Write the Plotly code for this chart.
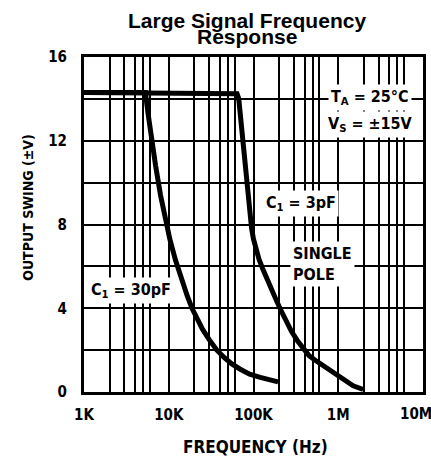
import plotly.graph_objects as go

# ---- data ----
freq_30pF = [1000, 5300, 5700, 6300, 7000, 8000, 9000, 10300, 12000, 14000, 16500, 18800,
             22000, 25000, 30000, 37000, 45000, 55000, 69000, 90000, 120000, 150000, 195000]
swing_30pF = [14.3, 14.3, 13.3, 12.0, 10.8, 9.4, 8.3, 7.3, 6.3, 5.4, 4.6, 4.0,
              3.4, 3.0, 2.5, 2.0, 1.65, 1.35, 1.1, 0.85, 0.7, 0.58, 0.48]

freq_3pF = [1000, 60000, 64000, 67000, 70000, 74000, 78000, 83000, 87000, 91000, 95000,
            100000, 107000, 116000, 128000, 145000, 165000, 185000, 205000, 240000, 280000,
            330000, 380000, 450000, 520000, 600000, 800000, 1000000, 1250000, 1500000, 1970000]
swing_3pF = [14.3, 14.3, 14.25, 14.0, 13.2, 12.0, 11.0, 10.0, 9.2, 8.4, 7.8,
             7.3, 6.85, 6.35, 5.9, 5.35, 4.85, 4.4, 4.0, 3.4, 2.9,
             2.45, 2.1, 1.75, 1.55, 1.38, 1.0, 0.73, 0.5, 0.3, 0.12]

decades = [1e3, 1e4, 1e5, 1e6, 1e7]
decade_labels = ["1K", "10K", "100K", "1M", "10M"]
grid_multiples = [2, 3, 4, 5, 6]
y_ticks = [0, 2, 4, 6, 8, 10, 12, 14, 16]
y_labels = ["0", "", "4", "", "8", "", "12", "", "16"]

# grid positions per decade; last decade label drawn separately (sits at the edge)
x_tickvals, x_ticktext = [], []
for d, lab in zip(decades, decade_labels):
    x_tickvals.append(d)
    x_ticktext.append(lab if d < decades[-1] else "")
    if d < decades[-1]:
        for m in grid_multiples:
            x_tickvals.append(d * m)
            x_ticktext.append("")

FONT = "Liberation Sans Narrow, DejaVu Sans Condensed, Arial Narrow, sans-serif"
TFONT = "Liberation Sans, Arial, sans-serif"

fig = go.Figure()
for fx, fy in [(freq_30pF, swing_30pF), (freq_3pF, swing_3pF)]:
    fig.add_trace(go.Scatter(x=fx, y=fy, mode="lines",
                             line=dict(color="black", width=5),
                             showlegend=False, hoverinfo="skip"))

lab_font = dict(family=FONT, size=16, color="black", weight="bold")
tick_font = dict(family=FONT, size=15, color="black", weight="bold")

ann = [
    dict(x=0.481, y=1.0, xref="paper", yref="paper", yshift=37, xanchor="center", yanchor="middle",
         text="Large Signal Frequency", showarrow=False,
         font=dict(family=TFONT, size=21, color="black", weight="bold")),
    dict(x=0.481, y=1.0, xref="paper", yref="paper", yshift=21, xanchor="center", yanchor="middle",
         text="Response", showarrow=False,
         font=dict(family=TFONT, size=21, color="black", weight="bold")),
    dict(x=6.375, y=14.05, xref="x", yref="y", text="T<sub>A</sub> = 25°C", showarrow=False,
         bgcolor="white", font=lab_font, borderpad=2),
    dict(x=6.375, y=12.8, xref="x", yref="y", text="V<sub>S</sub> = ±15V", showarrow=False,
         bgcolor="white", font=lab_font, borderpad=2),
    dict(x=5.56, y=9.0, xref="x", yref="y", text="C<sub>1</sub> = 3pF", showarrow=False,
         bgcolor="white", font=lab_font, borderpad=2),
    dict(x=5.43, y=6.1, xref="x", yref="y", text="SINGLE<br>POLE", showarrow=False,
         align="left", xanchor="left", bgcolor="white", font=lab_font, borderpad=2),
    dict(x=3.555, y=4.86, xref="x", yref="y", text="C<sub>1</sub> = 30pF", showarrow=False,
         bgcolor="white", font=lab_font, borderpad=2),
    dict(x=1.0, y=0, xref="paper", yref="paper", xshift=-7, yshift=-22,
         xanchor="center", yanchor="middle",
         text=decade_labels[-1], showarrow=False, font=tick_font),
    dict(x=-0.165, y=0.55, xref="paper", yref="paper", text="OUTPUT SWING (±V)", textangle=-90,
         xanchor="center", yanchor="middle", showarrow=False,
         font=dict(family=FONT, size=14, color="black", weight="bold")),
    dict(x=0.507, y=0, xref="paper", yref="paper", yshift=-55, xanchor="center", yanchor="middle",
         text="FREQUENCY (Hz)", showarrow=False,
         font=dict(family=FONT, size=17, color="black", weight="bold")),
]

fig.update_layout(
    width=431, height=467,
    margin=dict(l=84, r=8, t=57, b=75, autoexpand=False),
    paper_bgcolor="white", plot_bgcolor="white",
    annotations=ann,
    xaxis=dict(type="log", range=[3, 7], tickvals=x_tickvals, ticktext=x_ticktext,
               showgrid=True, gridcolor="black", gridwidth=2,
               showline=True, linecolor="black", linewidth=3, mirror=True,
               ticks="", tickfont=tick_font, ticklabelstandoff=7, zeroline=False,
               automargin=False),
    yaxis=dict(range=[0, 16], tickvals=y_ticks, ticktext=y_labels,
               showgrid=True, gridcolor="black", gridwidth=2,
               showline=True, linecolor="black", linewidth=3, mirror=True,
               ticks="", tickfont=tick_font, ticklabelstandoff=11, zeroline=False,
               automargin=False),
)

# remove the page's default body margin so the 431x467 figure fills the window exactly
fig.write_html("out.html",
               config={"displayModeBar": False, "staticPlot": True},
               post_script="document.body.style.margin='0';document.body.style.overflow='hidden';")
